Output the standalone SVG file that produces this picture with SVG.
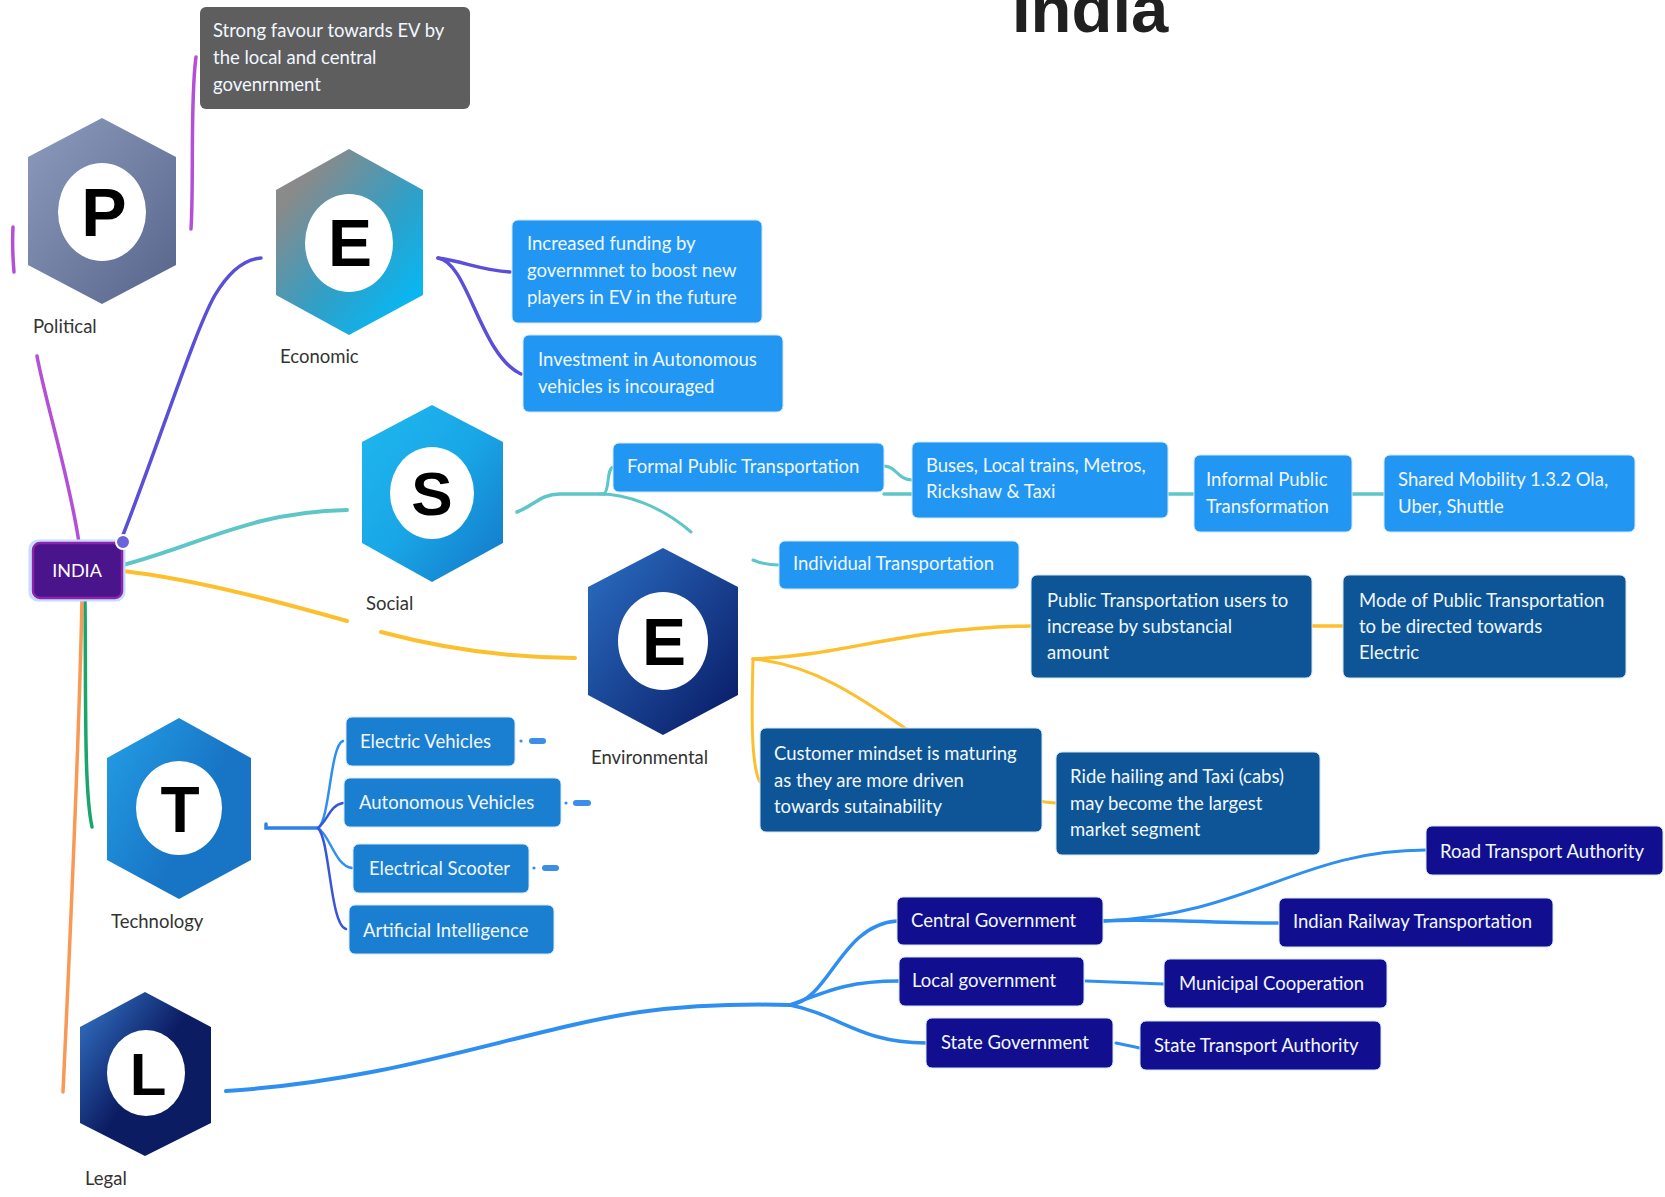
<svg xmlns="http://www.w3.org/2000/svg" width="1665" height="1197" viewBox="0 0 1665 1197">
<defs>
<linearGradient id="gP" x1="0" y1="0" x2="1" y2="1"><stop offset="0" stop-color="#8d9cbd"/><stop offset="1" stop-color="#56648a"/></linearGradient>
<linearGradient id="gE1" x1="0.2" y1="0.15" x2="0.85" y2="0.85"><stop offset="0" stop-color="#8a8a8a"/><stop offset="0.6" stop-color="#2ea0c8"/><stop offset="1" stop-color="#0bb5f0"/></linearGradient>
<linearGradient id="gS" x1="0" y1="0" x2="1" y2="1"><stop offset="0" stop-color="#1fb8f0"/><stop offset="0.5" stop-color="#19a6e6"/><stop offset="1" stop-color="#1476c8"/></linearGradient>
<linearGradient id="gE2" x1="0" y1="0" x2="1" y2="1"><stop offset="0" stop-color="#2b6fc4"/><stop offset="1" stop-color="#081862"/></linearGradient>
<linearGradient id="gT" x1="0" y1="0.2" x2="0.6" y2="0.6"><stop offset="0" stop-color="#2299e2"/><stop offset="1" stop-color="#1874c4"/></linearGradient>
<linearGradient id="gL" x1="0.1" y1="0.15" x2="0.5" y2="0.5"><stop offset="0" stop-color="#2b62b2"/><stop offset="1" stop-color="#0c1c62"/></linearGradient>
<style>
.bt{font-family:Lato,"Liberation Sans",sans-serif;font-size:18.5px;fill:#f1f7ff}
.lbl{font-family:Lato,"Liberation Sans",sans-serif;font-size:18.5px;fill:#333}
.let{font-family:"Liberation Sans",Arial,sans-serif;font-weight:bold;fill:#000;text-anchor:middle}
.b{stroke:#d3e6fa;stroke-width:1}
.c{fill:none;stroke-linecap:round}
.soc{fill:#2196f3}
.env{fill:#0d5596}
.tec{fill:#1b7fd1}
.leg{fill:#110f8f}
.tag{fill:#3d8ee8}
</style>
</defs>
<rect width="1665" height="1197" fill="#fff"/>
<text x="1012" y="32" font-family="Liberation Sans, Arial, sans-serif" font-weight="bold" font-size="67" fill="#202020">India</text>

<g id="connectors">
  <!-- political -->
  <path class="c" d="M37,356 C45,400 70,480 79,543" stroke="#b450d8" stroke-width="3.5"/>
  <path class="c" d="M13,227 C12,245 13,260 14,272" stroke="#b450d8" stroke-width="3.5"/>
  <path class="c" d="M191,229 C194,180 190,100 196,57" stroke="#b450d8" stroke-width="3.5"/>
  <!-- economic -->
  <path class="c" d="M123,535 C160,440 195,330 215,295 C230,270 245,259 261,258" stroke="#5a4fd6" stroke-width="3.5"/>
  <path class="c" d="M438,258 C466,262 480,270 510,272" stroke="#5a4fd6" stroke-width="3.5"/>
  <path class="c" d="M438,258 C468,262 480,355 521,374" stroke="#5a4fd6" stroke-width="3.5"/>
  <!-- social -->
  <path class="c" d="M123,565 C200,545 250,512 347,510" stroke="#5ec6c8" stroke-width="4"/>
  <path class="c" d="M517,512 C535,505 540,494 560,494 L604,494" stroke="#5ec6c8" stroke-width="3.5"/>
  <path class="c" d="M604,494 C610,490 606,470 613,467" stroke="#5ec6c8" stroke-width="3"/>
  <path class="c" d="M600,494 C625,494 660,505 691,532" stroke="#5ec6c8" stroke-width="3"/>
  <path class="c" d="M753,560 C760,563 768,565 779,565" stroke="#5ec6c8" stroke-width="3"/>
  <path class="c" d="M884,466 C896,466 898,480 912,480" stroke="#5ec6c8" stroke-width="3"/>
  <path class="c" d="M884,494 L1384,494" stroke="#5ec6c8" stroke-width="3.5"/>
  <!-- environmental -->
  <path class="c" d="M123,571 C200,580 290,605 347,621" stroke="#fcc02e" stroke-width="4"/>
  <path class="c" d="M381,632 C430,645 500,658 575,658" stroke="#fcc02e" stroke-width="4"/>
  <path class="c" d="M753,659 C850,655 900,628 1031,626" stroke="#fcc02e" stroke-width="3.5"/>
  <path class="c" d="M1312,626 L1343,626" stroke="#fcc02e" stroke-width="3.5"/>
  <path class="c" d="M753,659 C752,700 750,765 760,782" stroke="#fcc02e" stroke-width="3"/>
  <path class="c" d="M753,659 C820,665 870,705 930,745 C980,780 1020,802 1056,803" stroke="#fcc02e" stroke-width="3"/>
  <!-- technology -->
  <path class="c" d="M85,598 C86,700 84,790 92,827" stroke="#1aa56b" stroke-width="3.5"/>
  <path class="c" d="M266,824 L266,828 L318,828" stroke="#2f7fe8" stroke-width="3.5"/>
  <path class="c" d="M318,828 C330,820 330,745 343,741" stroke="#2f8ff0" stroke-width="2.5"/>
  <path class="c" d="M318,828 C328,820 330,805 343,803" stroke="#3a55d8" stroke-width="2.5"/>
  <path class="c" d="M318,828 C330,835 335,866 352,868" stroke="#2f8ff0" stroke-width="2.5"/>
  <path class="c" d="M318,828 C330,840 330,925 346,929" stroke="#3a55d8" stroke-width="2.5"/>
  <!-- legal -->
  <path class="c" d="M82,598 C80,700 72,900 63,1092" stroke="#f89a55" stroke-width="3.5"/>
  <path class="c" d="M226,1091 C400,1080 520,1030 640,1012 C700,1004 750,1004 790,1005" stroke="#2f8ff0" stroke-width="4"/>
  <path class="c" d="M790,1005 C830,1000 840,925 897,921" stroke="#2f8ff0" stroke-width="3.5"/>
  <path class="c" d="M790,1005 C830,990 850,981 899,981" stroke="#2f8ff0" stroke-width="3.5"/>
  <path class="c" d="M790,1005 C840,1015 860,1043 926,1043" stroke="#2f8ff0" stroke-width="3.5"/>
  <path class="c" d="M1103,921 C1150,918 1200,923 1279,923" stroke="#2f8ff0" stroke-width="3.5"/>
  <path class="c" d="M1103,921 C1250,915 1300,850 1426,850" stroke="#2f8ff0" stroke-width="3"/>
  <path class="c" d="M1086,981 L1164,984" stroke="#2f8ff0" stroke-width="3"/>
  <path class="c" d="M1116,1043 L1140,1048" stroke="#2f8ff0" stroke-width="3"/>
</g>

<g id="node-india">
  <rect x="30" y="541" width="94" height="59" rx="8" fill="none" stroke="#c4dcff" stroke-width="3"/>
  <rect x="33" y="543" width="89" height="55" rx="7" fill="#4a148c" stroke="#8e24aa" stroke-width="2.5"/>
  <text x="77" y="577" text-anchor="middle" font-family="Lato, 'Liberation Sans', sans-serif" font-size="18" fill="#fff">INDIA</text>
  <circle cx="123" cy="542" r="7" fill="#6a64d8" stroke="#fff" stroke-width="2"/>
</g>

<g id="node-political">
  <polygon points="102,118 176,157 176,265 102,304 28,265 28,157" fill="url(#gP)"/>
  <ellipse cx="102" cy="212" rx="44" ry="49" fill="#fff"/>
  <text class="let" x="104" y="236" font-size="68">P</text>
  <text class="lbl" x="33" y="333">Political</text>
</g>
<g id="node-political-1">
  <rect x="200" y="7" width="270" height="102" rx="6" fill="#5e5e5e"/>
  <text class="bt" x="213" y="37" fill="#ececec">Strong favour towards EV by</text>
  <text class="bt" x="213" y="64">the local and central</text>
  <text class="bt" x="213" y="91">govenrnment</text>
</g>

<g id="node-economic">
  <polygon points="349,149 423,190 423,295 349,335 276,295 276,190" fill="url(#gE1)"/>
  <ellipse cx="349" cy="243" rx="44" ry="49" fill="#fff"/>
  <text class="let" x="350" y="266" font-size="66">E</text>
  <text class="lbl" x="280" y="363">Economic</text>
</g>
<g id="node-economic-1">
  <rect class="soc b" x="512" y="220" width="250" height="103" rx="6"/>
  <text class="bt" x="527" y="250">Increased funding by</text>
  <text class="bt" x="527" y="277">governmnet to boost new</text>
  <text class="bt" x="527" y="304">players in EV in the future</text>
</g>
<g id="node-economic-2">
  <rect class="soc b" x="523" y="335" width="260" height="77" rx="6"/>
  <text class="bt" x="538" y="366">Investment in Autonomous</text>
  <text class="bt" x="538" y="393">vehicles is incouraged</text>
</g>

<g id="node-social">
  <polygon points="432,405 503,442 503,543 432,582 362,543 362,442" fill="url(#gS)"/>
  <ellipse cx="432" cy="493" rx="42" ry="46" fill="#fff"/>
  <text class="let" x="432" y="515" font-size="62">S</text>
  <text class="lbl" x="366" y="610">Social</text>
</g>
<g id="node-social-1">
  <rect class="soc b" x="613" y="443" width="271" height="49" rx="6"/>
  <text class="bt" x="627" y="473">Formal Public Transportation</text>
</g>
<g id="node-social-2">
  <rect class="soc b" x="912" y="442" width="256" height="76" rx="6"/>
  <text class="bt" x="926" y="472">Buses, Local trains, Metros,</text>
  <text class="bt" x="926" y="498">Rickshaw &amp; Taxi</text>
</g>
<g id="node-social-3">
  <rect class="soc b" x="1194" y="455" width="158" height="77" rx="6"/>
  <text class="bt" x="1206" y="486">Informal Public</text>
  <text class="bt" x="1206" y="513">Transformation</text>
</g>
<g id="node-social-4">
  <rect class="soc b" x="1384" y="455" width="251" height="77" rx="6"/>
  <text class="bt" x="1398" y="486">Shared Mobility 1.3.2 Ola,</text>
  <text class="bt" x="1398" y="513">Uber, Shuttle</text>
</g>
<g id="node-social-5">
  <rect class="soc b" x="779" y="541" width="240" height="48" rx="6"/>
  <text class="bt" x="793" y="570">Individual Transportation</text>
</g>

<g id="node-environmental">
  <polygon points="663,548 738,587 738,695 663,735 588,695 588,587" fill="url(#gE2)"/>
  <ellipse cx="663" cy="641" rx="45" ry="49" fill="#fff"/>
  <text class="let" x="664" y="665" font-size="66">E</text>
  <text class="lbl" x="591" y="764">Environmental</text>
</g>
<g id="node-environmental-1">
  <rect class="env b" x="1031" y="575" width="281" height="103" rx="6"/>
  <text class="bt" x="1047" y="607">Public Transportation users to</text>
  <text class="bt" x="1047" y="633">increase by substancial</text>
  <text class="bt" x="1047" y="659">amount</text>
</g>
<g id="node-environmental-2">
  <rect class="env b" x="1343" y="575" width="283" height="103" rx="6"/>
  <text class="bt" x="1359" y="607">Mode of Public Transportation</text>
  <text class="bt" x="1359" y="633">to be directed towards</text>
  <text class="bt" x="1359" y="659">Electric</text>
</g>
<g id="node-environmental-3">
  <rect class="env b" x="760" y="728" width="282" height="104" rx="6"/>
  <text class="bt" x="774" y="760">Customer mindset is maturing</text>
  <text class="bt" x="774" y="787">as they are more driven</text>
  <text class="bt" x="774" y="813">towards sutainability</text>
</g>
<g id="node-environmental-4">
  <rect class="env b" x="1056" y="752" width="264" height="103" rx="6"/>
  <text class="bt" x="1070" y="783">Ride hailing and Taxi (cabs)</text>
  <text class="bt" x="1070" y="810">may become the largest</text>
  <text class="bt" x="1070" y="836">market segment</text>
</g>

<g id="node-technology">
  <polygon points="179,718 251,758 251,860 179,899 107,860 107,758" fill="url(#gT)"/>
  <ellipse cx="179" cy="808" rx="43" ry="47" fill="#fff"/>
  <text class="let" x="180" y="832" font-size="64">T</text>
  <text class="lbl" x="111" y="928">Technology</text>
</g>
<g id="node-technology-1">
  <rect class="tec b" x="346" y="717" width="169" height="49" rx="6"/>
  <text class="bt" x="360" y="748">Electric Vehicles</text>
  <circle cx="521" cy="741" r="1.6" class="tag"/>
  <rect class="tag" x="529" y="738" width="17" height="6" rx="3"/>
</g>
<g id="node-technology-2">
  <rect class="tec b" x="344" y="778" width="217" height="49" rx="6"/>
  <text class="bt" x="359" y="809">Autonomous Vehicles</text>
  <circle cx="566" cy="803" r="1.6" class="tag"/>
  <rect class="tag" x="573" y="800" width="18" height="6" rx="3"/>
</g>
<g id="node-technology-3">
  <rect class="tec b" x="353" y="844" width="176" height="49" rx="6"/>
  <text class="bt" x="369" y="875">Electrical Scooter</text>
  <circle cx="534" cy="868" r="1.6" class="tag"/>
  <rect class="tag" x="542" y="865" width="17" height="6" rx="3"/>
</g>
<g id="node-technology-4">
  <rect class="tec b" x="349" y="905" width="205" height="49" rx="6"/>
  <text class="bt" x="363" y="937">Artificial Intelligence</text>
</g>

<g id="node-legal">
  <polygon points="145,992 211,1027 211,1123 145,1156 80,1123 80,1027" fill="url(#gL)"/>
  <ellipse cx="146" cy="1073" rx="39" ry="43" fill="#fff"/>
  <text class="let" x="148" y="1095" font-size="60">L</text>
  <text class="lbl" x="85" y="1185">Legal</text>
</g>
<g id="node-legal-1">
  <rect class="leg b" x="897" y="897" width="206" height="48" rx="6"/>
  <text class="bt" x="911" y="927">Central Government</text>
</g>
<g id="node-legal-2">
  <rect class="leg b" x="1426" y="826" width="237" height="49" rx="6"/>
  <text class="bt" x="1440" y="858">Road Transport Authority</text>
</g>
<g id="node-legal-3">
  <rect class="leg b" x="1279" y="898" width="274" height="49" rx="6"/>
  <text class="bt" x="1293" y="928">Indian Railway Transportation</text>
</g>
<g id="node-legal-4">
  <rect class="leg b" x="899" y="957" width="185" height="49" rx="6"/>
  <text class="bt" x="912" y="987">Local government</text>
</g>
<g id="node-legal-5">
  <rect class="leg b" x="1164" y="959" width="223" height="49" rx="6"/>
  <text class="bt" x="1179" y="990">Municipal Cooperation</text>
</g>
<g id="node-legal-6">
  <rect class="leg b" x="926" y="1018" width="187" height="50" rx="6"/>
  <text class="bt" x="941" y="1049">State Government</text>
</g>
<g id="node-legal-7">
  <rect class="leg b" x="1140" y="1021" width="241" height="49" rx="6"/>
  <text class="bt" x="1154" y="1052">State Transport Authority</text>
</g>
</svg>
